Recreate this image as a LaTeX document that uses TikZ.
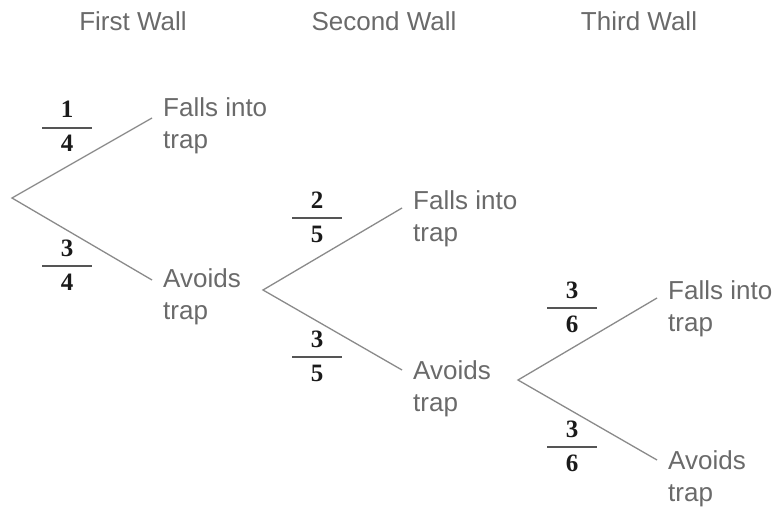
\documentclass[tikz,border=0pt]{standalone}
\usepackage{fontspec}
\setmainfont{Liberation Sans}
\newfontfamily\fracfont{Liberation Serif}
\definecolor{txtgray}{HTML}{6A6A6A}
\definecolor{linegray}{HTML}{8A8A8A}
\definecolor{fracink}{HTML}{1A1A1A}
\definecolor{bargray}{HTML}{555555}
\tikzset{
  lbl/.style={font=\fontsize{26}{30}\selectfont, text=txtgray, inner sep=0pt, anchor=base west},
  hdr/.style={font=\fontsize{26}{30}\selectfont, text=txtgray, inner sep=0pt, anchor=base},
  branch/.style={draw=linegray, line width=1.3pt},
  fnum/.style={font=\fracfont\bfseries\fontsize{25}{28}\selectfont, text=fracink, inner sep=0pt, anchor=base},
  fbar/.style={draw=bargray, line width=2pt}
}
\begin{document}
\begin{tikzpicture}[x=1pt,y=-1pt]
\useasboundingbox (0,0) rectangle (781,513);
% headers
\node[hdr] (h1) at (133,31) {First Wall};
\node[hdr] (h2) at (384,31) {Second Wall};
\node[hdr] (h3) at (639,31) {Third Wall};
% roots and ends
\coordinate (r1) at (12,198);
\coordinate (e1u) at (152,118);
\coordinate (e1d) at (152,280);
\coordinate (r2) at (263,290);
\coordinate (e2u) at (402,208);
\coordinate (e2d) at (402,370);
\coordinate (r3) at (518,380);
\coordinate (e3u) at (657,298);
\coordinate (e3d) at (657,460);
\draw[branch] (e1u) -- (r1) -- (e1d);
\draw[branch] (e2u) -- (r2) -- (e2d);
\draw[branch] (e3u) -- (r3) -- (e3d);
% labels
\node[lbl] (f1a) at (163,117) {Falls into};
\node[lbl] (f1b) at (163,149) {trap};
\node[lbl] (a1a) at (163,287) {Avoids};
\node[lbl] (a1b) at (163,319) {trap};
\node[lbl] (f2a) at (413,209) {Falls into};
\node[lbl] (f2b) at (413,241) {trap};
\node[lbl] (a2a) at (413,379) {Avoids};
\node[lbl] (a2b) at (413,411) {trap};
\node[lbl] (f3a) at (668,299) {Falls into};
\node[lbl] (f3b) at (668,331) {trap};
\node[lbl] (a3a) at (668,469) {Avoids};
\node[lbl] (a3b) at (668,501) {trap};
% fractions
\node[fnum] (p1n) at (67,118) {1};
\draw[fbar] (42,128) -- (92,128);
\node[fnum] (p1d) at (67,152) {4};
\node[fnum] (q1n) at (67,256) {3};
\draw[fbar] (42,266) -- (92,266);
\node[fnum] (q1d) at (67,290) {4};
\node[fnum] (p2n) at (317,208) {2};
\draw[fbar] (292,218) -- (342,218);
\node[fnum] (p2d) at (317,242) {5};
\node[fnum] (q2n) at (317,347) {3};
\draw[fbar] (292,357) -- (342,357);
\node[fnum] (q2d) at (317,381) {5};
\node[fnum] (p3n) at (572,298) {3};
\draw[fbar] (547,308) -- (597,308);
\node[fnum] (p3d) at (572,332) {6};
\node[fnum] (q3n) at (572,437) {3};
\draw[fbar] (547,447) -- (597,447);
\node[fnum] (q3d) at (572,471) {6};
\end{tikzpicture}
\end{document}
